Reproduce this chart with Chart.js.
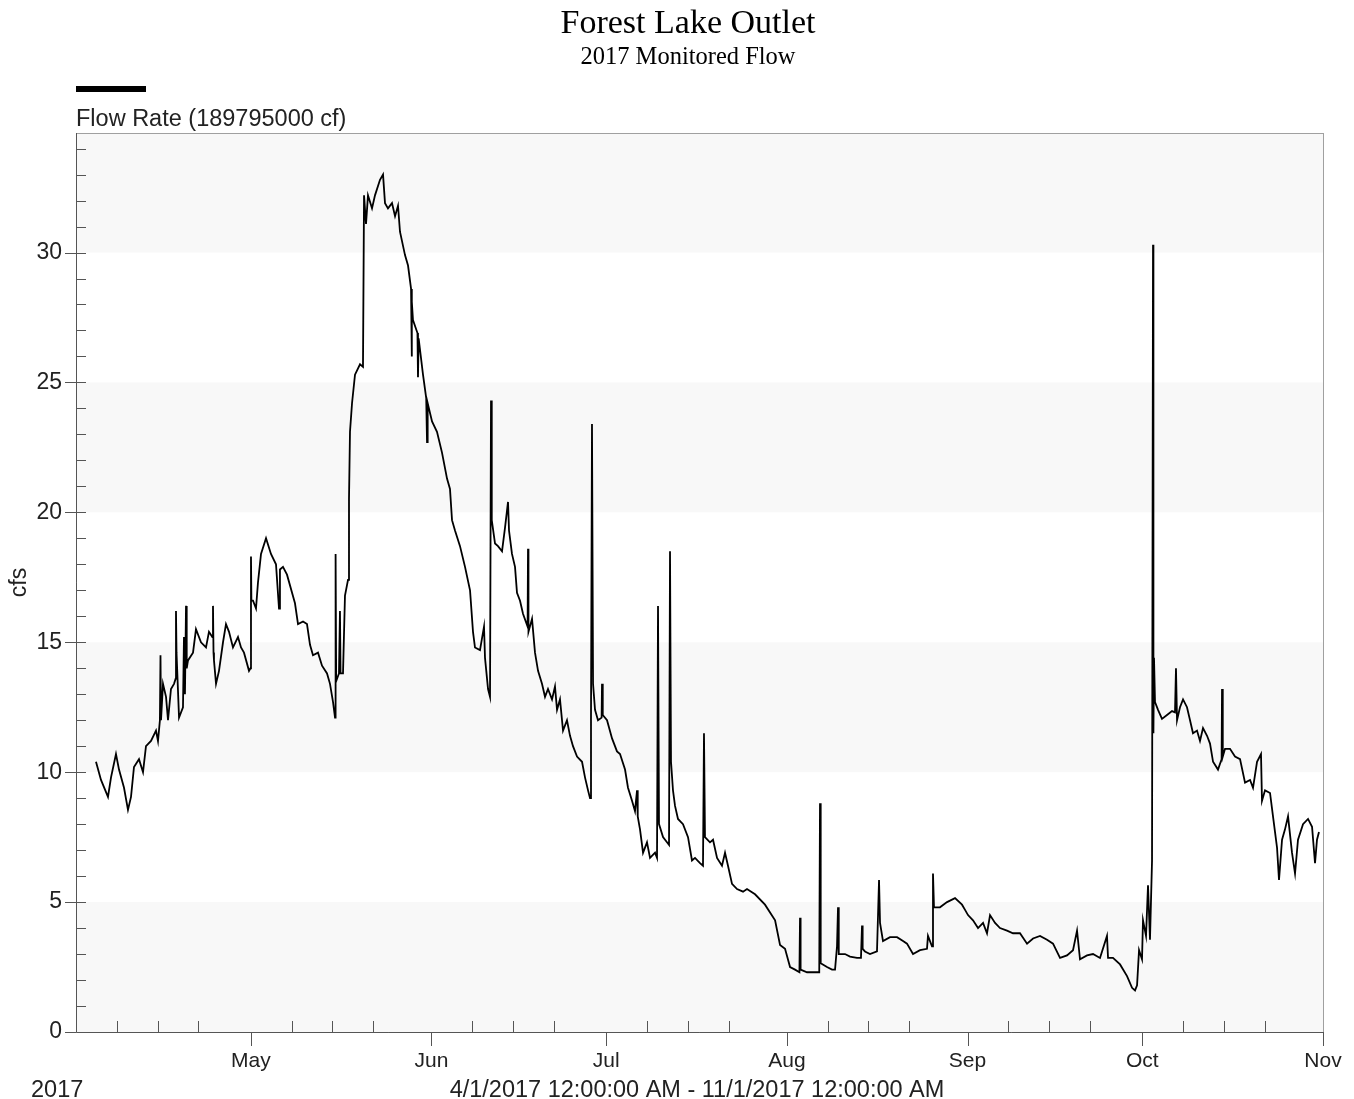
<!DOCTYPE html>
<html>
<head>
<meta charset="utf-8">
<title>Forest Lake Outlet</title>
<script src="https://cdn.jsdelivr.net/npm/chart.js@4.4.1/dist/chart.umd.min.js"></script>
<style>
  html, body { margin: 0; padding: 0; background: #fff; }
  #wrap { width: 1354px; height: 1099px; position: relative; }
</style>
</head>
<body>
<div id="wrap"><canvas id="flowChart"></canvas></div>
<script>
// days since 4/1/2017 00:00 and flow in cfs
const flowDays = [
  3.43, 4.29, 5.49, 6.01, 6.86, 7.38, 8.24, 8.92, 9.44, 9.95,
  10.81, 11.50, 12.01, 12.87, 13.73, 14.07, 14.40, 14.50, 14.59, 14.93,
  15.45, 15.79, 16.30, 16.82, 17.10, 17.16, 17.25, 17.68, 18.36, 18.53,
  18.70, 18.88, 19.00, 19.22, 20.08, 20.59, 21.45, 22.31, 22.82, 23.40,
  23.51, 23.60, 23.68, 24.03, 24.54, 25.23, 25.74, 26.26, 26.94, 27.80,
  28.32, 28.83, 29.69, 29.95, 30.03, 30.10, 30.38, 30.89, 31.23, 31.75,
  32.61, 33.46, 34.32, 34.84, 35.00, 35.52, 36.21, 37.58, 38.10, 38.96,
  39.64, 40.16, 40.67, 41.53, 42.22, 43.08, 43.59, 44.11, 44.45, 44.55,
  44.65, 45.13, 45.30, 45.40, 45.82, 46.16, 46.68, 46.85, 47.02, 47.37,
  47.88, 48.74, 49.25, 49.43, 49.77, 50.11, 50.80, 51.31, 52.17, 52.69,
  53.03, 53.54, 54.23, 54.75, 55.26, 55.60, 56.46, 56.98, 57.50, 57.60,
  57.66, 57.83, 58.60, 58.69, 58.80, 59.55, 60.10, 60.24, 60.35, 61.10,
  61.95, 62.81, 63.67, 64.18, 64.53, 65.04, 65.90, 66.76, 67.62, 68.13,
  68.47, 69.33, 70.02, 70.19, 70.71, 71.05, 71.22, 71.35, 71.91, 72.42,
  73.11, 73.62, 74.14, 74.31, 74.82, 75.34, 75.68, 76.20, 76.71, 77.50,
  77.57, 77.65, 78.26, 78.77, 79.29, 79.97, 80.49, 81.00, 81.69, 82.20,
  82.55, 83.06, 83.58, 84.26, 84.78, 85.29, 85.98, 86.84, 87.35, 87.87,
  88.21, 88.38, 88.55, 88.73, 89.07, 89.58, 90.20, 90.27, 90.40, 91.13,
  91.99, 92.84, 93.36, 94.22, 94.73, 95.42, 95.93, 96.28, 96.40, 96.79,
  97.31, 97.99, 98.51, 99.37, 99.71, 99.88, 100.05, 100.74, 101.42, 101.77,
  101.94, 102.11, 102.45, 102.80, 103.31, 104.17, 105.03, 105.71, 106.23, 107.09,
  107.60, 107.77, 107.94, 108.80, 109.32, 110.01, 110.86, 111.38, 111.89, 112.58,
  113.44, 114.47, 115.15, 116.53, 118.24, 119.97, 120.82, 121.68, 122.54, 123.39,
  124.15, 124.25, 124.35, 125.45, 126.48, 127.55, 127.68, 127.80, 128.88, 129.74,
  130.26, 130.60, 130.77, 130.90, 131.97, 132.83, 134.03, 134.71, 134.89, 135.00,
  135.40, 136.26, 137.46, 137.81, 137.98, 138.49, 139.69, 140.90, 141.93, 142.61,
  143.64, 144.84, 146.04, 146.21, 146.90, 147.07, 147.24, 147.76, 148.27, 149.48,
  150.85, 152.05, 152.57, 153.08, 153.94, 154.80, 155.66, 156.34, 156.86, 157.72,
  158.57, 159.77, 160.80, 162.00, 163.21, 164.24, 165.44, 166.64, 167.67, 168.87,
  170.07, 171.10, 171.79, 172.30, 173.50, 174.53, 175.73, 176.93, 177.11, 177.96,
  179.17, 180.37, 181.23, 181.74, 182.09, 182.43, 182.94, 183.11, 183.63, 183.97,
  184.31, 184.66, 184.83, 184.90, 185.00, 185.17, 185.69, 186.37, 187.23, 188.09,
  188.60, 188.77, 188.95, 189.46, 189.98, 190.66, 191.18, 191.69, 192.38, 192.89,
  193.41, 194.10, 194.61, 195.13, 195.98, 196.60, 196.67, 196.80, 197.19, 198.04,
  198.90, 199.76, 200.62, 201.48, 201.99, 202.68, 203.36, 203.53, 204.05, 204.91,
  205.42, 206.11, 206.45, 206.97, 207.48, 208.00, 208.68, 209.20, 209.71, 210.57,
  211.43, 212.12, 212.63, 212.97, 213.31
];
const flowCfs = [
  10.4, 9.7, 9.05, 9.8, 10.7, 10.1, 9.4, 8.55, 9.05, 10.2,
  10.5, 10.0, 11.0, 11.2, 11.6, 11.2, 12.0, 14.5, 12.0, 13.4,
  12.9, 12.0, 13.2, 13.4, 13.6, 16.2, 14.6, 12.1, 12.5, 15.2,
  13.0, 16.4, 14.0, 14.3, 14.6, 15.5, 15.0, 14.8, 15.4, 15.2,
  16.4, 14.6, 14.3, 13.4, 13.9, 15.0, 15.7, 15.4, 14.8, 15.2,
  14.8, 14.6, 13.9, 14.0, 18.3, 16.6, 16.6, 16.3, 17.3, 18.4,
  19.0, 18.4, 18.0, 16.3, 17.8, 17.9, 17.6, 16.5, 15.7, 15.8,
  15.7, 14.9, 14.5, 14.6, 14.1, 13.8, 13.4, 12.7, 12.1, 18.4,
  13.5, 13.8, 16.2, 13.8, 13.8, 16.8, 17.4, 20.5, 23.1, 24.2,
  25.3, 25.7, 25.6, 32.2, 31.1, 32.2, 31.7, 32.2, 32.8, 33.0,
  31.9, 31.7, 31.9, 31.4, 31.8, 30.8, 29.9, 29.5, 28.6, 26.0,
  28.1, 27.4, 26.9, 25.2, 26.7, 25.3, 24.4, 22.7, 24.2, 23.5,
  23.1, 22.3, 21.3, 20.9, 19.7, 19.3, 18.7, 17.9, 17.0, 15.4,
  14.8, 14.7, 15.6, 14.4, 13.2, 12.9, 24.3, 19.7, 18.8, 18.7,
  18.5, 19.4, 20.4, 19.3, 18.4, 17.9, 16.9, 16.6, 16.1, 15.6,
  18.6, 15.4, 15.9, 14.6, 13.9, 13.4, 12.9, 13.2, 12.8, 13.3,
  12.4, 12.8, 11.6, 12.0, 11.4, 11.0, 10.6, 10.4, 9.8, 9.3,
  9.0, 12.0, 23.4, 13.4, 12.4, 12.0, 12.1, 13.4, 12.2, 12.0,
  11.3, 10.8, 10.7, 10.1, 9.4, 8.9, 8.5, 9.3, 8.3, 7.8,
  6.9, 7.3, 6.7, 6.9, 6.7, 16.4, 8.0, 7.5, 7.3, 7.2,
  18.5, 10.4, 9.3, 8.7, 8.2, 8.0, 7.5, 6.6, 6.7, 6.5,
  6.4, 11.5, 7.5, 7.3, 7.4, 6.7, 6.4, 6.9, 6.4, 5.7,
  5.5, 5.4, 5.5, 5.3, 4.9, 4.3, 3.35, 3.2, 2.5, 2.4,
  2.3, 4.4, 2.4, 2.3, 2.3, 2.3, 8.8, 2.65, 2.5, 2.4,
  2.4, 3.3, 4.8, 3.0, 3.0, 2.9, 2.85, 2.85, 4.1, 3.2,
  3.1, 3.0, 3.1, 5.85, 4.2, 3.5, 3.65, 3.65, 3.5, 3.4,
  3.0, 3.15, 3.2, 3.7, 3.3, 6.1, 4.8, 4.8, 4.8, 5.0,
  5.15, 4.9, 4.7, 4.5, 4.3, 4.0, 4.2, 3.8, 4.5, 4.2,
  4.0, 3.9, 3.8, 3.8, 3.4, 3.6, 3.7, 3.55, 3.4, 2.85,
  2.95, 3.15, 3.9, 2.8, 2.95, 3.0, 2.85, 3.7, 2.85, 2.85,
  2.6, 2.15, 1.7, 1.6, 1.8, 3.15, 2.8, 4.3, 3.7, 5.65,
  3.55, 6.6, 30.3, 11.5, 14.4, 12.7, 12.4, 12.05, 12.2, 12.35,
  12.3, 14.0, 12.0, 12.5, 12.8, 12.5, 12.0, 11.5, 11.6, 11.2,
  11.7, 11.4, 11.1, 10.4, 10.1, 10.5, 13.2, 10.6, 10.9, 10.9,
  10.6, 10.5, 9.6, 9.7, 9.4, 10.4, 10.7, 8.9, 9.3, 9.2,
  8.3, 7.1, 5.85, 7.4, 7.8, 8.3, 6.9, 6.1, 7.4, 8.0,
  8.2, 7.9, 6.5, 7.4, 7.7
];

// axis labels
const monthNames = ['May', 'Jun', 'Jul', 'Aug', 'Sep', 'Oct', 'Nov'];
const monthDays = [30, 61, 91, 122, 153, 183, 214];
const weekTickDays = [7, 14, 21, 37, 44, 51, 68, 75, 82, 98, 105, 112,
                      129, 136, 143, 160, 167, 174, 190, 197, 204];
const yLabels = [0, 5, 10, 15, 20, 25, 30];
const yearLabel = '2017';
const rangeLabel = '4/1/2017 12:00:00 AM - 11/1/2017 12:00:00 AM';
const seriesLabel = 'Flow Rate (189795000 cf)';

const points = flowDays.map((d, i) => ({ x: d, y: flowCfs[i] }));

const sansFont = '"Liberation Sans", Arial, sans-serif';
const serifFont = '"Liberation Serif", "Times New Roman", serif';

const decorPlugin = {
  id: 'decor',
  beforeDraw(chart) {
    const { ctx, chartArea: a, scales: { y } } = chart;
    ctx.save();
    ctx.fillStyle = '#fff';
    ctx.fillRect(0, 0, chart.width, chart.height);
    // light bands 0-5, 10-15, 20-25, 30-top
    ctx.fillStyle = '#f8f8f8';
    for (let lo = 0; lo < y.max; lo += 10) {
      const top = y.getPixelForValue(Math.min(lo + 5, y.max));
      const bot = y.getPixelForValue(lo);
      ctx.fillRect(a.left, top, a.right - a.left, bot - top);
    }
    ctx.restore();
  },
  afterDraw(chart) {
    const { ctx, chartArea: a, scales: { x, y } } = chart;
    ctx.save();
    // frame
    ctx.strokeStyle = '#a0a0a0';
    ctx.lineWidth = 1;
    ctx.strokeRect(a.left + 0.5, a.top + 0.5, a.right - a.left, a.bottom - a.top);
    ctx.strokeStyle = '#555';
    ctx.beginPath();
    ctx.moveTo(a.left + 0.5, a.top);
    ctx.lineTo(a.left + 0.5, a.bottom + 0.5);
    ctx.lineTo(a.right, a.bottom + 0.5);
    ctx.stroke();

    // y ticks
    ctx.strokeStyle = '#555';
    ctx.beginPath();
    for (let v = 1; v < y.max; v++) {
      const py = Math.round(y.getPixelForValue(v)) + 0.5;
      ctx.moveTo(a.left, py);
      ctx.lineTo(a.left + 10, py);
    }
    yLabels.forEach(v => {
      const py = Math.round(y.getPixelForValue(v)) + 0.5;
      ctx.moveTo(a.left - 11, py);
      ctx.lineTo(a.left, py);
    });
    // x ticks
    weekTickDays.forEach(d => {
      const px = Math.round(x.getPixelForValue(d)) + 0.5;
      ctx.moveTo(px, a.bottom);
      ctx.lineTo(px, a.bottom - 11);
    });
    monthDays.forEach(d => {
      const px = Math.round(x.getPixelForValue(d)) + 0.5;
      ctx.moveTo(px, a.bottom);
      ctx.lineTo(px, a.bottom + 14);
    });
    ctx.stroke();

    // titles
    ctx.fillStyle = '#000';
    ctx.textAlign = 'center';
    ctx.textBaseline = 'alphabetic';
    ctx.font = '34px ' + serifFont;
    ctx.fillText('Forest Lake Outlet', 688, 33);
    ctx.font = '24.5px ' + serifFont;
    ctx.fillText('2017 Monitored Flow', 688, 64);

    // legend
    ctx.fillRect(76, 86, 70, 6);
    ctx.textAlign = 'left';
    ctx.font = '23.5px ' + sansFont;
    ctx.fillStyle = '#222';
    ctx.fillText(seriesLabel, 76, 126);

    // bottom labels
    ctx.fillText(yearLabel, 31, 1097);
    ctx.textAlign = 'center';
    ctx.fillText(rangeLabel, 697, 1097);
    ctx.restore();
  }
};

new Chart(document.getElementById('flowChart'), {
  type: 'line',
  data: {
    datasets: [{
      label: seriesLabel,
      data: points,
      borderColor: '#000',
      borderWidth: 1.8,
      pointRadius: 0,
      tension: 0,
      fill: false
    }]
  },
  options: {
    responsive: true,
    maintainAspectRatio: false,
    animation: false,
    layout: { padding: { top: 133, right: 31, left: 0, bottom: 0 } },
    plugins: {
      legend: { display: false },
      title: { display: false },
      tooltip: { enabled: false }
    },
    scales: {
      x: {
        type: 'linear',
        min: 0,
        max: 214,
        afterBuildTicks: s => { s.ticks = monthDays.map(v => ({ value: v })); },
        afterFit: s => {
          s.height = 67;
          s.paddingLeft = 0;
          s.paddingRight = 0;
        },
        grid: { display: false, drawTicks: false },
        border: { display: false },
        ticks: {
          autoSkip: false,
          maxRotation: 0,
          padding: 17,
          color: '#222',
          font: { family: sansFont, size: 21 },
          callback: v => monthNames[monthDays.indexOf(v)]
        }
      },
      y: {
        min: 0,
        max: 34.6,
        afterBuildTicks: s => { s.ticks = yLabels.map(v => ({ value: v })); },
        afterFit: s => { s.width = 76; },
        grid: { display: false, drawTicks: false },
        border: { display: false },
        title: {
          display: true,
          text: 'cfs',
          color: '#222',
          font: { family: sansFont, size: 23 },
          padding: { top: 6, bottom: 0 }
        },
        ticks: {
          padding: 14,
          color: '#222',
          font: { family: sansFont, size: 23 }
        }
      }
    }
  },
  plugins: [decorPlugin]
});
</script>
</body>
</html>
